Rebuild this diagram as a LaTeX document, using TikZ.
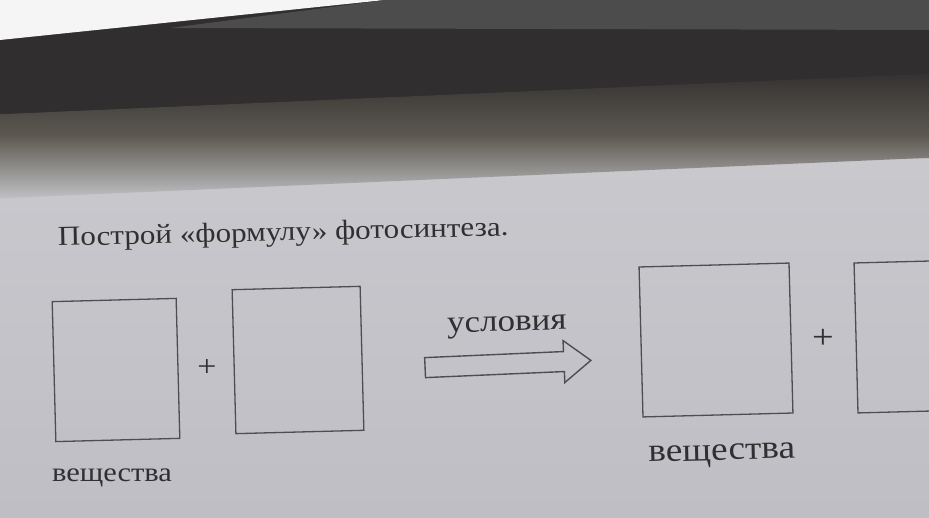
\documentclass[tikz,border=0pt]{standalone}
\usepackage{fontspec}
\setmainfont[FakeStretch=1.13]{Liberation Serif}
\definecolor{page}{RGB}{200,200,205}
\definecolor{pagelow}{RGB}{190,190,196}
\definecolor{shadow}{RGB}{48,46,46}
\definecolor{shadowmid}{RGB}{92,88,80}
\definecolor{ink}{RGB}{48,48,50}
\definecolor{lineink}{RGB}{78,78,82}
\begin{document}
\begin{tikzpicture}[x=1pt,y=-1pt,
  answerbox/.style 2 args={draw=lineink, line width=1.3pt, minimum width=#1, minimum height=#2, inner sep=0pt, rotate=1.5},
  plussign/.style={text=ink, inner sep=0pt},
  labeltext/.style={text=ink, inner sep=0pt},
  arrowshape/.style={draw=lineink, line width=1.4pt, line join=miter}
]
\useasboundingbox (0,0) rectangle (929,518);
% background: page and shadow of the bent page
\fill[pagelow] (0,0) rectangle (929,518);
\shade[top color=page, bottom color=pagelow] (0,160) rectangle (929,518);
\fill[shadow] (0,0) rectangle (929,110);
\begin{scope}[rotate around={2.5:(465,135)}]
  \fill[shadow] (-120,40) rectangle (1100,95);
  \shade[top color=shadow, bottom color=page, middle color=shadowmid] (-120,94) rectangle (1100,178);
\end{scope}
\fill[white!92!gray] (0,0) -- (385,0) -- (0,40) -- cycle;
\fill[gray!60!black] (385,0) -- (929,0) -- (929,30) -- (170,28) -- cycle;

\clip (0,0) rectangle (929,518);

% title
\node[labeltext, anchor=base west, rotate=1.3, font=\fontsize{27.5}{27.5}\selectfont] (title) at (58,246) {Построй «формулу» фотосинтеза.};

% left side
\node[answerbox={124pt}{140pt}] (b1) at (116,370) {};
\node[plussign, font=\fontsize{30}{30}\selectfont] (p1) at (207,368) {+};
\node[answerbox={128pt}{144pt}] (b2) at (298,360) {};
\node[labeltext, font=\fontsize{27}{27}\selectfont, anchor=base] (l1) at (112,481) {вещества};

% arrow with conditions
\node[labeltext, font=\fontsize{31}{31}\selectfont, anchor=base, rotate=1.5] (cond) at (507,331) {условия};
\begin{scope}[rotate around={2.5:(508,364)}]
  \coordinate (atail) at (425,364);
  \coordinate (atip) at (591,364);
  \draw[arrowshape] (425,354) -- (564,354) -- (564,343) -- (atip) -- (564,385) -- (564,374) -- (425,374) -- cycle;
\end{scope}

% right side
\node[answerbox={150pt}{150pt}] (b3) at (716,340) {};
\node[plussign, font=\fontsize{34}{34}\selectfont] (p2) at (823,339) {+};
\node[answerbox={150pt}{150pt}] (b4) at (931,336) {};
\node[labeltext, font=\fontsize{33}{33}\selectfont, anchor=base, rotate=1.5] (l2) at (722,460) {вещества};
\end{tikzpicture}
\end{document}
